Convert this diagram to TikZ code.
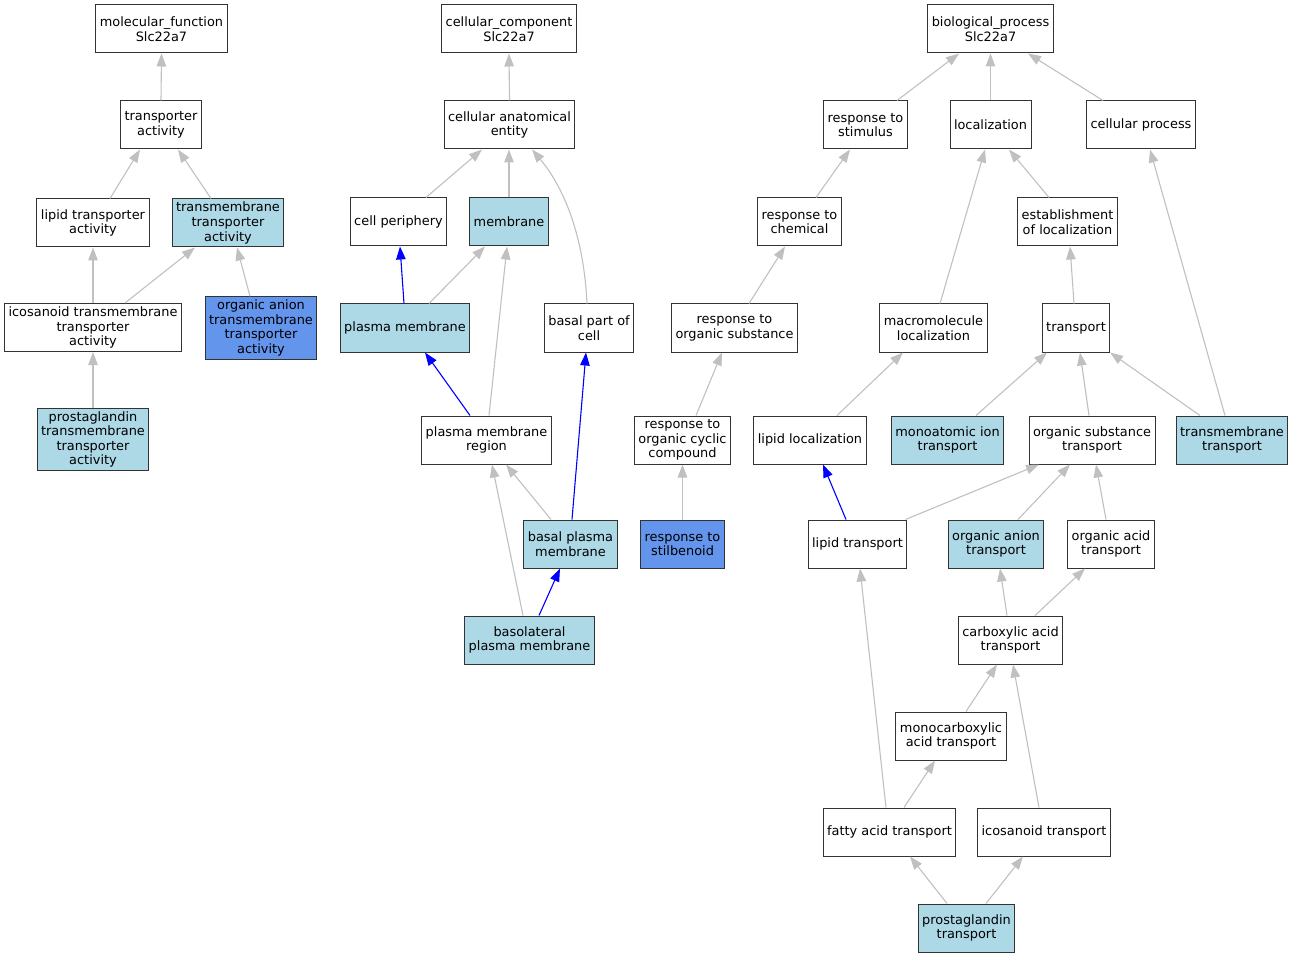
\documentclass[tikz,border=0pt]{standalone}
\usepackage{fontspec}
\setmainfont{DejaVu Sans}
\usepackage{tikz}
\usetikzlibrary{arrows.meta}
\definecolor{termblue}{HTML}{ADD8E6}
\definecolor{termdark}{HTML}{6495ED}
\definecolor{edgegray}{HTML}{C0C0C0}
\tikzstyle{term}=[draw=black!80, line width=1pt, fill=white, align=center, inner xsep=4pt, inner ysep=3pt, minimum height=48pt, font=\fontsize{12.9}{14.6}\selectfont]
\tikzstyle{termlight}=[term, fill=termblue]
\tikzstyle{termdark}=[term, fill=termdark]
\tikzstyle{isa}=[draw=edgegray, line width=1.1pt, -{Triangle[length=13pt, width=9.5pt]}]
\tikzstyle{isablue}=[isa, draw=blue]

\begin{document}
\begin{tikzpicture}[x=1pt, y=-1pt]
	\useasboundingbox (0,0) rectangle (1292,957);
	\begin{scope}
		% molecular function
		\node (mf) at (161.5, 29)[term] {molecular\_function\\Slc22a7};
		\node (ta) at (161, 125)[term] {transporter\\activity};
		\node (lta) at (93, 223)[term] {lipid transporter\\activity};
		\node (tta) at (228, 223)[termlight] {transmembrane\\transporter\\activity};
		\node (itta) at (93, 327.5)[term] {icosanoid transmembrane\\transporter\\activity};
		\node (oatta) at (261, 328)[termdark] {organic anion\\transmembrane\\transporter\\activity};
		\node (ptta) at (93, 439.5)[termlight] {prostaglandin\\transmembrane\\transporter\\activity};
		% cellular component
		\node (cc) at (509, 29)[term] {cellular\_component\\Slc22a7};
		\node (cae) at (509.5, 125)[term] {cellular anatomical\\entity};
		\node (cp) at (398.5, 222)[term] {cell periphery};
		\node (mem) at (509, 222)[termlight] {membrane};
		\node (pm) at (405, 328)[termlight] {plasma membrane};
		\node (bpc) at (589, 328)[term] {basal part of\\cell};
		\node (pmr) at (486.5, 440)[term] {plasma membrane\\region};
		\node (bpm) at (570.5, 544)[termlight] {basal plasma\\membrane};
		\node (blpm) at (529.5, 640)[termlight] {basolateral\\plasma membrane};
		% biological process
		\node (bp) at (990.5, 29)[term] {biological\_process\\Slc22a7};
		\node (rts) at (865.5, 125)[term] {response to\\stimulus};
		\node (loc) at (990.5, 125)[term] {localization};
		\node (cproc) at (1141, 125)[term] {cellular process};
		\node (rtc) at (799.5, 222)[term] {response to\\chemical};
		\node (eol) at (1067.5, 222)[term] {establishment\\of localization};
		\node (rtos) at (734.5, 328)[term] {response to\\organic substance};
		\node (ml) at (933.5, 328)[term] {macromolecule\\localization};
		\node (tr) at (1076, 328)[term] {transport};
		\node (rtocc) at (682.5, 440)[term] {response to\\organic cyclic\\compound};
		\node (rtst) at (682.5, 544)[termdark] {response to\\stilbenoid};
		\node (ll) at (810, 440)[term] {lipid localization};
		\node (mit) at (947.5, 440)[termlight] {monoatomic ion\\transport};
		\node (ost) at (1092, 440)[term] {organic substance\\transport};
		\node (tmt) at (1232, 440)[termlight] {transmembrane\\transport};
		\node (lt) at (857.5, 544)[term] {lipid transport};
		\node (oat) at (996, 544)[termlight] {organic anion\\transport};
		\node (oact) at (1111, 544)[term] {organic acid\\transport};
		\node (cat) at (1010.5, 640)[term] {carboxylic acid\\transport};
		\node (mcat) at (951, 736)[term] {monocarboxylic\\acid transport};
		\node (fat) at (889.5, 832)[term] {fatty acid transport};
		\node (it) at (1044, 832)[term] {icosanoid transport};
		\node (pt) at (966.5, 928)[termlight] {prostaglandin\\transport};
	\end{scope}
	\begin{scope}
		\path (ta.north) edge [isa] (mf.south);
		\path ([xshift=17]lta.north) edge [isa] ([xshift=-21]ta.south);
		\path ([xshift=-17]tta.north) edge [isa] ([xshift=17]ta.south);
		\path (itta.north) edge [isa] (lta.south);
		\path ([xshift=32]itta.north) edge [isa] ([xshift=-33]tta.south);
		\path ([xshift=-11]oatta.north) edge [isa] ([xshift=9]tta.south);
		\path (ptta.north) edge [isa] (itta.south);

		\path (cae.north) edge [isa] (cc.south);
		\path ([xshift=27.5]cp.north) edge [isa] ([xshift=-27.5]cae.south);
		\path (mem.north) edge [isa] ([xshift=-0.5]cae.south);
		\draw [isa] ([xshift=-2]bpc.north) .. controls (584,240) and (566,190) .. ([xshift=22.5]cae.south);
		\path ([xshift=-1]pm.north) edge [isablue] ([xshift=1.5]cp.south);
		\path ([xshift=24]pm.north) edge [isa] ([xshift=-24]mem.south);
		\path ([xshift=2.5]pmr.north) edge [isa] ([xshift=-2]mem.south);
		\path ([xshift=-16.5]pmr.north) edge [isablue] ([xshift=20]pm.south);
		\path ([xshift=1.5]bpm.north) edge [isablue] ([xshift=-3]bpc.south);
		\path ([xshift=-19.5]bpm.north) edge [isa] ([xshift=19.5]pmr.south);
		\path ([xshift=-6.5]blpm.north) edge [isa] ([xshift=5.5]pmr.south);
		\path ([xshift=9.5]blpm.north) edge [isablue] ([xshift=-10.5]bpm.south);

		\path ([xshift=31.5]rts.north) edge [isa] ([xshift=-31.5]bp.south);
		\path (loc.north) edge [isa] (bp.south);
		\path ([xshift=-38]cproc.north) edge [isa] ([xshift=37.5]bp.south);
		\path ([xshift=16.5]rtc.north) edge [isa] ([xshift=-15.5]rts.south);
		\path ([xshift=-18.5]eol.north) edge [isa] ([xshift=18.5]loc.south);
		\path ([xshift=14.5]rtos.north) edge [isa] ([xshift=-14.5]rtc.south);
		\path ([xshift=6.5]ml.north) edge [isa] ([xshift=-5.5]loc.south);
		\path ([xshift=-2]tr.north) edge [isa] ([xshift=2.5]eol.south);
		\path ([xshift=-7]tmt.north) edge [isa] ([xshift=9]cproc.south);
		\path ([xshift=13.5]rtocc.north) edge [isa] ([xshift=-12.5]rtos.south);
		\path (rtst.north) edge [isa] (rtocc.south);
		\path ([xshift=27]ll.north) edge [isa] ([xshift=-30.5]ml.south);
		\path ([xshift=28.5]mit.north) edge [isa] ([xshift=-29]tr.south);
		\path ([xshift=-3]ost.north) edge [isa] ([xshift=4]tr.south);
		\path ([xshift=-32]tmt.north) edge [isa] ([xshift=34]tr.south);
		\path ([xshift=-11.5]lt.north) edge [isablue] ([xshift=13]ll.south);
		\path ([xshift=48]lt.north) edge [isa] ([xshift=-53]ost.south);
		\path ([xshift=22]oat.north) edge [isa] ([xshift=-22]ost.south);
		\path ([xshift=-5]oact.north) edge [isa] ([xshift=4]ost.south);
		\path ([xshift=-3.5]cat.north) edge [isa] ([xshift=4]oat.south);
		\path ([xshift=24.5]cat.north) edge [isa] ([xshift=-26]oact.south);
		\path ([xshift=15]mcat.north) edge [isa] ([xshift=-13.5]cat.south);
		\path ([xshift=-3.5]fat.north) edge [isa] ([xshift=2.5]lt.south);
		\path ([xshift=14.5]fat.north) edge [isa] ([xshift=-16]mcat.south);
		\path ([xshift=-5]it.north) edge [isa] ([xshift=2.5]cat.south);
		\path ([xshift=-19.5]pt.north) edge [isa] ([xshift=20.5]fat.south);
		\path ([xshift=19.5]pt.north) edge [isa] ([xshift=-21]it.south);
	\end{scope}
\end{tikzpicture}
\end{document}
